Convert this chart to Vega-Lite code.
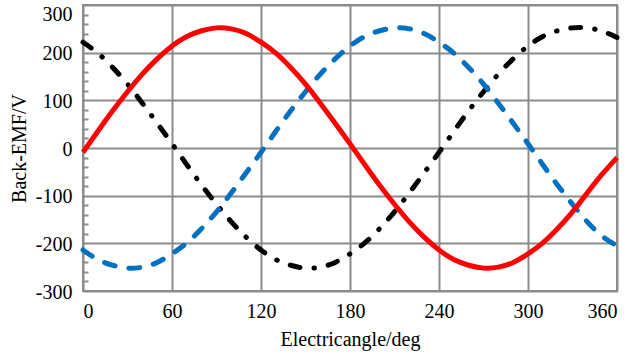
{
  "$schema": "https://vega.github.io/schema/vega-lite/v6.json",
  "width": 534,
  "height": 286,
  "autosize": {"type": "none"},
  "padding": {"left": 83, "top": 5, "right": 14, "bottom": 65},
  "config": {
    "font": "Liberation Serif",
    "view": {"stroke": "#8c8c8c", "strokeWidth": 2}
  },
  "data": {"values": [
    {"a":0,"v":-9,"p":"A"},{"a":10,"v":35,"p":"A"},{"a":20,"v":78,"p":"A"},{"a":30,"v":118,"p":"A"},{"a":40,"v":155,"p":"A"},{"a":50,"v":187,"p":"A"},{"a":60,"v":214,"p":"A"},{"a":70,"v":234,"p":"A"},{"a":80,"v":246,"p":"A"},{"a":90,"v":252,"p":"A"},{"a":100,"v":250,"p":"A"},{"a":110,"v":240,"p":"A"},{"a":120,"v":222,"p":"A"},{"a":130,"v":199,"p":"A"},{"a":140,"v":169,"p":"A"},{"a":150,"v":134,"p":"A"},{"a":160,"v":94,"p":"A"},{"a":170,"v":52,"p":"A"},{"a":180,"v":9,"p":"A"},{"a":190,"v":-35,"p":"A"},{"a":200,"v":-78,"p":"A"},{"a":210,"v":-118,"p":"A"},{"a":220,"v":-155,"p":"A"},{"a":230,"v":-187,"p":"A"},{"a":240,"v":-214,"p":"A"},{"a":250,"v":-234,"p":"A"},{"a":260,"v":-246,"p":"A"},{"a":270,"v":-252,"p":"A"},{"a":280,"v":-250,"p":"A"},{"a":290,"v":-240,"p":"A"},{"a":300,"v":-222,"p":"A"},{"a":310,"v":-199,"p":"A"},{"a":320,"v":-169,"p":"A"},{"a":330,"v":-134,"p":"A"},{"a":340,"v":-94,"p":"A"},{"a":350,"v":-55,"p":"A"},{"a":360,"v":-20,"p":"A"},
    {"a":0,"v":-214,"p":"B"},{"a":10,"v":-234,"p":"B"},{"a":20,"v":-246,"p":"B"},{"a":30,"v":-252,"p":"B"},{"a":40,"v":-250,"p":"B"},{"a":50,"v":-240,"p":"B"},{"a":60,"v":-222,"p":"B"},{"a":70,"v":-199,"p":"B"},{"a":80,"v":-169,"p":"B"},{"a":90,"v":-134,"p":"B"},{"a":100,"v":-94,"p":"B"},{"a":110,"v":-52,"p":"B"},{"a":120,"v":-9,"p":"B"},{"a":130,"v":35,"p":"B"},{"a":140,"v":78,"p":"B"},{"a":150,"v":118,"p":"B"},{"a":160,"v":155,"p":"B"},{"a":170,"v":187,"p":"B"},{"a":180,"v":214,"p":"B"},{"a":190,"v":234,"p":"B"},{"a":200,"v":246,"p":"B"},{"a":210,"v":252,"p":"B"},{"a":220,"v":250,"p":"B"},{"a":230,"v":240,"p":"B"},{"a":240,"v":222,"p":"B"},{"a":250,"v":199,"p":"B"},{"a":260,"v":169,"p":"B"},{"a":270,"v":134,"p":"B"},{"a":280,"v":94,"p":"B"},{"a":290,"v":52,"p":"B"},{"a":300,"v":9,"p":"B"},{"a":310,"v":-35,"p":"B"},{"a":320,"v":-78,"p":"B"},{"a":330,"v":-118,"p":"B"},{"a":340,"v":-155,"p":"B"},{"a":350,"v":-185,"p":"B"},{"a":360,"v":-205,"p":"B"},
    {"a":0,"v":222,"p":"C"},{"a":10,"v":199,"p":"C"},{"a":20,"v":169,"p":"C"},{"a":30,"v":134,"p":"C"},{"a":40,"v":94,"p":"C"},{"a":50,"v":52,"p":"C"},{"a":60,"v":9,"p":"C"},{"a":70,"v":-35,"p":"C"},{"a":80,"v":-78,"p":"C"},{"a":90,"v":-118,"p":"C"},{"a":100,"v":-155,"p":"C"},{"a":110,"v":-187,"p":"C"},{"a":120,"v":-214,"p":"C"},{"a":130,"v":-234,"p":"C"},{"a":140,"v":-246,"p":"C"},{"a":150,"v":-252,"p":"C"},{"a":160,"v":-250,"p":"C"},{"a":170,"v":-240,"p":"C"},{"a":180,"v":-222,"p":"C"},{"a":190,"v":-199,"p":"C"},{"a":200,"v":-169,"p":"C"},{"a":210,"v":-134,"p":"C"},{"a":220,"v":-94,"p":"C"},{"a":230,"v":-52,"p":"C"},{"a":240,"v":-9,"p":"C"},{"a":250,"v":35,"p":"C"},{"a":260,"v":78,"p":"C"},{"a":270,"v":118,"p":"C"},{"a":280,"v":155,"p":"C"},{"a":290,"v":187,"p":"C"},{"a":300,"v":214,"p":"C"},{"a":310,"v":234,"p":"C"},{"a":320,"v":246,"p":"C"},{"a":330,"v":252,"p":"C"},{"a":340,"v":252,"p":"C"},{"a":350,"v":245,"p":"C"},{"a":360,"v":232,"p":"C"}
  ]},
  "layer": [
    {
      "transform": [{"filter": "datum.p === 'C'"}],
      "mark": {"type": "line", "color": "#000000", "strokeWidth": 5, "interpolate": "natural", "strokeCap": "round", "strokeDash": [10, 14, 0.5, 14]},
      "encoding": {
        "x": {"field": "a", "type": "quantitative", "scale": {"domain": [0, 360], "nice": false},
          "axis": {"values": [0, 60, 120, 180, 240, 300, 360], "grid": true, "gridColor": "#8c8c8c", "gridWidth": 2, "ticks": false, "domain": false, "labelFontSize": 20, "labelColor": "#000000", "labelPadding": 10, "title": "Electricangle/deg", "titleFontSize": 20, "titleFontWeight": "normal", "titleColor": "#000000", "titlePadding": 8}},
        "y": {"field": "v", "type": "quantitative", "scale": {"domain": [-300, 300], "nice": false},
          "axis": {"values": [-300, -200, -100, 0, 100, 200, 300], "grid": true, "gridColor": "#8c8c8c", "gridWidth": 2, "ticks": false, "domain": false, "labelFontSize": 20, "labelColor": "#000000", "labelPadding": 11, "labelExpr": "'' + datum.value", "labelOffset": {"condition": {"test": "datum.value == 300", "value": 9}, "value": 1}, "title": "Back-EMF/V", "titleFontSize": 20, "titleFontWeight": "normal", "titleColor": "#000000", "titlePadding": 6}}
      }
    },
    {
      "transform": [{"filter": "datum.p === 'B'"}],
      "mark": {"type": "line", "color": "#0070C0", "strokeWidth": 5, "interpolate": "natural", "strokeCap": "round", "strokeDash": [11, 14]},
      "encoding": {
        "x": {"field": "a", "type": "quantitative"},
        "y": {"field": "v", "type": "quantitative",
          "axis": {"orient": "left", "values": [-280, -260, -240, -220, -180, -160, -140, -120, -80, -60, -40, -20, 20, 40, 60, 80, 120, 140, 160, 180, 220, 240, 260, 280], "grid": false, "labels": false, "domain": false, "ticks": true, "tickSize": -5, "tickColor": "#8c8c8c", "tickWidth": 2, "title": null}}
      }
    },
    {
      "transform": [{"filter": "datum.p === 'A'"}],
      "mark": {"type": "line", "color": "#FF0000", "strokeWidth": 5, "interpolate": "natural"},
      "encoding": {
        "x": {"field": "a", "type": "quantitative"},
        "y": {"field": "v", "type": "quantitative", "axis": null}
      }
    }
  ],
  "resolve": {"axis": {"y": "independent"}}
}
